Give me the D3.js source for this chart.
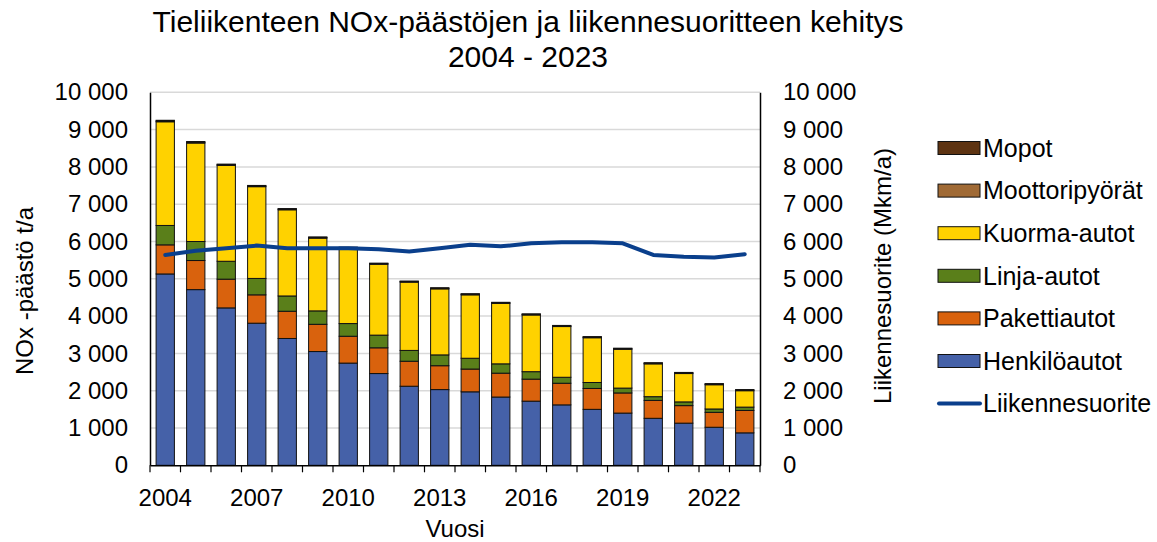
<!DOCTYPE html>
<html><head><meta charset="utf-8">
<script src="https://cdn.jsdelivr.net/npm/d3@7"></script>
<style>body{margin:0;background:#fff;} text{font-family:"Liberation Sans",Arial,sans-serif;fill:#000;}</style>
</head><body><svg id="c" width="1157" height="542"></svg>
<script>
const years = [2004,2005,2006,2007,2008,2009,2010,2011,2012,2013,2014,2015,2016,2017,2018,2019,2020,2021,2022,2023];
const henkiloautot = [5130,4710,4220,3810,3400,3050,2740,2460,2120,2030,1970,1830,1720,1620,1500,1400,1260,1130,1020,870];
const pakettiautot = [780,780,770,760,730,730,720,690,670,640,610,640,590,580,560,540,480,470,400,600];
const linjaautot = [520,510,480,440,410,360,340,340,290,290,290,250,200,160,160,130,100,100,90,90];
const kuormaautot = [2780,2640,2570,2460,2310,1950,2020,1900,1830,1770,1700,1620,1520,1360,1200,1040,880,760,650,440];
const moottoripyorat = [20,20,20,18,18,18,18,18,18,18,18,18,18,18,18,18,18,18,18,18];
const mopot = [20,20,15,15,15,15,12,12,12,12,12,12,12,12,12,12,12,12,12,12];
const liikennesuorite = [5640,5750,5820,5890,5820,5820,5820,5790,5730,5820,5910,5870,5950,5980,5980,5950,5640,5590,5570,5660];
const yTicks = [0,1000,2000,3000,4000,5000,6000,7000,8000,9000,10000];
const xTickLabels = ["2004","2007","2010","2013","2016","2019","2022"];
const seriesNames = ["Henkilöautot","Pakettiautot","Linja-autot","Kuorma-autot","Moottoripyörät","Mopot"];
const seriesColors = ["#4561a8","#d9620d","#5a7f1a","#ffd200","#a06a35","#5e3412"];
const lineName = "Liikennesuorite";
const lineColor = "#0a3f8c";

const svg = d3.select("#c");
const L = 150, R = 760, T = 92.3, B = 465.3;
const FS = 24;
const x = d3.scaleBand().domain(years).range([L,R]).paddingInner(0.4).paddingOuter(0.2);
const y = d3.scaleLinear().domain([0,10000]).range([B,T]);
const y2 = d3.scaleLinear().domain([0,10000]).range([B,T]);
const fmt = d => d3.format(",")(d).replace(/,/g," ");

// gridlines
svg.append("g").selectAll("line").data(yTicks.filter(d=>d>0)).join("line")
  .attr("x1",L).attr("x2",R).attr("y1",d=>y(d)).attr("y2",d=>y(d))
  .attr("stroke","#d9d9d9").attr("stroke-width",1.5);

// stacked bars
const seriesArrays = [henkiloautot,pakettiautot,linjaautot,kuormaautot,moottoripyorat,mopot];
const rows = years.map((yr,i)=>{const o={year:yr}; seriesNames.forEach((n,k)=>o[n]=seriesArrays[k][i]); return o;});
const stack = d3.stack().keys(seriesNames)(rows);
svg.append("g").selectAll("g").data(stack).join("g")
  .attr("fill",(d,i)=>seriesColors[i])
  .selectAll("rect").data(d=>d).join("rect")
  .attr("x",d=>x(d.data.year)).attr("width",x.bandwidth())
  .attr("y",d=>y(d[1])).attr("height",d=>y(d[0])-y(d[1]))
  .attr("stroke","#111").attr("stroke-width",1);

// line
svg.append("path").datum(liikennesuorite)
  .attr("fill","none").attr("stroke",lineColor).attr("stroke-width",4).attr("stroke-linejoin","round").attr("stroke-linecap","round")
  .attr("d",d3.line().x((d,i)=>x(years[i])+x.bandwidth()/2).y(d=>y2(d)));

// axes
const gl = svg.append("g").attr("transform",`translate(${L},0)`)
  .call(d3.axisLeft(y).tickValues(yTicks).tickFormat(fmt).tickSize(0).tickPadding(22));
const gr = svg.append("g").attr("transform",`translate(${R},0)`)
  .call(d3.axisRight(y2).tickValues(yTicks).tickFormat(fmt).tickSize(0).tickPadding(23));
const gx = svg.append("g").attr("transform",`translate(0,${B})`)
  .call(d3.axisBottom(x).tickSize(0).tickFormat(d=>xTickLabels.includes(String(d))?String(d):""));
[gl,gr,gx].forEach(g=>{
  g.selectAll("text").attr("font-size",FS).attr("font-family","Liberation Sans, Arial, sans-serif").attr("fill","#000");
  g.select(".domain").attr("stroke","#000").attr("stroke-width",1.5);
});
gx.selectAll("text").attr("y",24);
// x boundary ticks
svg.append("g").selectAll("line").data(d3.range(years.length+1)).join("line")
  .attr("x1",i=>L+i*(R-L)/years.length).attr("x2",i=>L+i*(R-L)/years.length)
  .attr("y1",B).attr("y2",B+7).attr("stroke","#000").attr("stroke-width",1.2);

// titles
svg.append("text").attr("x",528).attr("y",32).attr("text-anchor","middle").attr("font-size",30)
  .text("Tieliikenteen NOx-päästöjen ja liikennesuoritteen kehitys");
svg.append("text").attr("x",528).attr("y",67).attr("text-anchor","middle").attr("font-size",30).text("2004 - 2023");
svg.append("text").attr("x",455).attr("y",537).attr("text-anchor","middle").attr("font-size",FS).text("Vuosi");
svg.append("text").attr("transform","translate(33,291) rotate(-90)").attr("text-anchor","middle").attr("font-size",FS).text("NOx -päästö t/a");
svg.append("text").attr("transform","translate(891,276) rotate(-90)").attr("text-anchor","middle").attr("font-size",FS).text("Liikennesuorite (Mkm/a)");

// legend
const legendItems = seriesNames.map((n,i)=>({name:n,color:seriesColors[i]})).reverse();
const lg = svg.append("g");
legendItems.forEach((it,i)=>{
  const cy = 148 + i*42.6;
  lg.append("rect").attr("x",938).attr("y",cy-6.5).attr("width",42).attr("height",13).attr("fill",it.color).attr("stroke","#111").attr("stroke-width",1);
  lg.append("text").attr("x",983).attr("y",cy).attr("dy","0.35em").attr("font-size",25).text(it.name);
});
const ly = 148 + 6*42.6;
lg.append("line").attr("x1",939).attr("x2",980).attr("y1",ly).attr("y2",ly).attr("stroke",lineColor).attr("stroke-width",4).attr("stroke-linecap","round");
lg.append("text").attr("x",983).attr("y",ly).attr("dy","0.35em").attr("font-size",25).text(lineName);
</script></body></html>
